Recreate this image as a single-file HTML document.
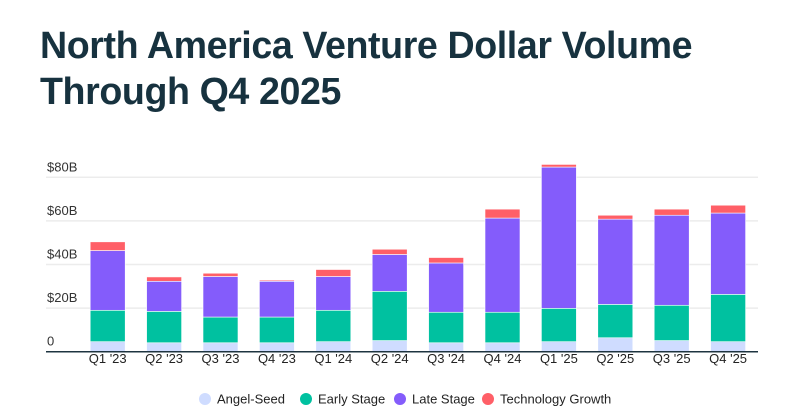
<!DOCTYPE html>
<html><head><meta charset="utf-8"><style>
body{margin:0;background:#fff;width:795px;height:412px;overflow:hidden;font-family:"Liberation Sans",sans-serif}
h1{position:absolute;left:40px;top:22px;margin:0;font-size:37.6px;line-height:46px;font-weight:bold;color:#17323f;letter-spacing:-0.4px}
svg{position:absolute;left:0;top:0}
</style></head><body>
<h1>North America Venture Dollar Volume<br>Through Q4 2025</h1>
<svg id="c" width="795" height="412"></svg>
<script>
const categories=["Q1 '23","Q2 '23","Q3 '23","Q4 '23","Q1 '24","Q2 '24","Q3 '24","Q4 '24","Q1 '25","Q2 '25","Q3 '25","Q4 '25"];
const angelSeed=[4.6,4.1,4.1,4.1,4.6,5.1,4.1,4.1,4.6,6.4,5.1,4.6];
const earlyStage=[14.4,14.4,11.8,11.8,14.4,22.6,14.0,14.0,15.3,15.3,16.2,21.7];
const lateStage=[27.4,13.8,18.6,16.4,15.5,16.9,22.6,43.2,64.8,39.1,41.3,37.3];
const techGrowth=[4.0,2.0,1.5,0.5,3.2,2.4,2.5,4.1,1.2,1.8,2.8,3.6];
const yTicks=[0,20,40,60,80];
const yTickLabels=["0","$20B","$40B","$60B","$80B"];
const series=[["angel-seed",angelSeed,"#cfdcff","Angel-Seed"],["early-stage",earlyStage,"#00c1a0","Early Stage"],["late-stage",lateStage,"#845cfb","Late Stage"],["technology-growth",techGrowth,"#ff5f67","Technology Growth"]];
const svg=document.getElementById('c');const NS="http://www.w3.org/2000/svg";
const base=351.7,ppb=2.18,x0=107.7,step=56.4,bw=35;
const y=v=>base-v*ppb;const x=i=>x0+i*step;
function mk(t,a,p){const e=document.createElementNS(NS,t);for(const k in a)e.setAttribute(k,a[k]);(p||svg).appendChild(e);return e;}
yTicks.forEach((t,i)=>{
 if(t>0){const g=mk('line',{x1:46,x2:758,y1:y(t),y2:y(t),stroke:'#ececec','stroke-width':1.5});
 
 }
 const l=mk('text',{x:47,y:y(t)-6,'font-size':13,fill:'#333'});l.textContent=yTickLabels[i];
 
 
});
categories.forEach((c,i)=>{
 let acc=0;
 series.forEach(s=>{const v=s[1][i];
  const r=mk('rect',{x:x(i)-bw/2,y:y(acc+v),width:bw,height:v*ppb,fill:s[2],stroke:'#fff','stroke-width':0.6});
  
  
  acc+=v;});
 const t=mk('text',{x:x(i),y:363,'font-size':13,fill:'#222','text-anchor':'middle'});t.textContent=c;
 
 
});
const ax=mk('line',{x1:46,x2:758,y1:base,y2:base,stroke:'#1e3440','stroke-width':1.5});


const lx=[205,306,400,488];
series.forEach((s,i)=>{
 const g=mk('g',{});
 
 
 mk('circle',{cx:lx[i],cy:399,r:6,fill:s[2]},g);
 const t=mk('text',{x:lx[i]+12,y:403.5,'font-size':13,fill:'#222'},g);t.textContent=s[3];
});
</script>
</body></html>
